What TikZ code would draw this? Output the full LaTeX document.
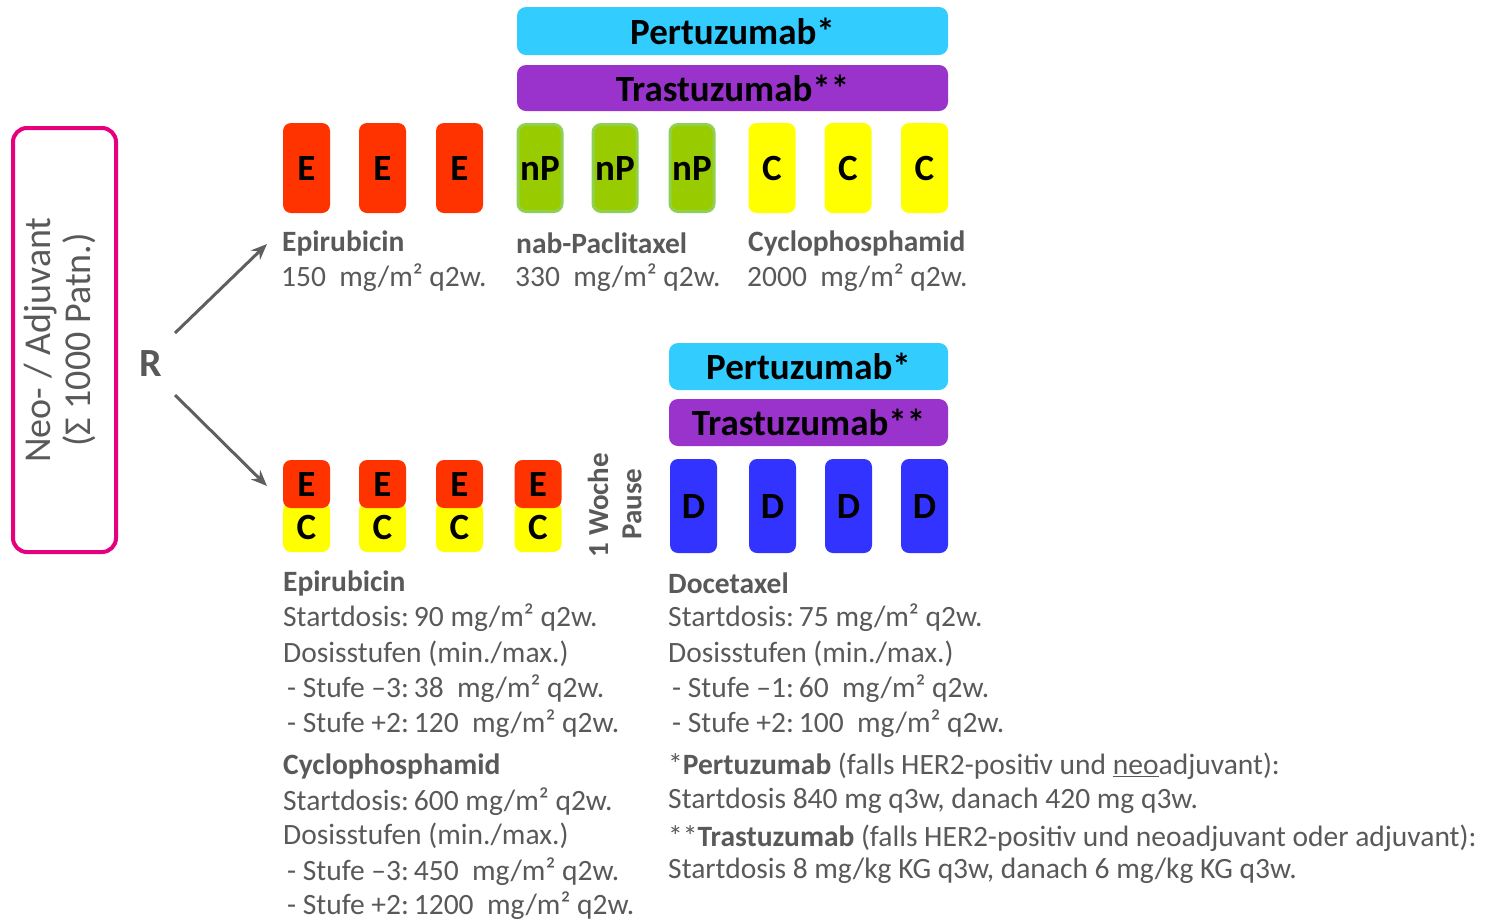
\documentclass[tikz,border=0pt]{standalone}
\usepackage{fontspec}
\setmainfont{Carlito}
\usetikzlibrary{arrows.meta}
\definecolor{txt}{HTML}{595959}
\definecolor{pink}{HTML}{E6007E}
\definecolor{ered}{HTML}{FF3300}
\definecolor{npgreen}{HTML}{99CC00}
\definecolor{npedge}{HTML}{8FD14F}
\definecolor{cyel}{HTML}{FFFF00}
\definecolor{dblue}{HTML}{3333FF}
\definecolor{pcyan}{HTML}{33CCFF}
\definecolor{tpurp}{HTML}{9933CC}
\definecolor{arr}{HTML}{5F5F5F}
\tikzset{
  cell/.style={rounded corners=8pt, inner sep=0pt, minimum width=47pt, font=\fontsize{37}{40}\selectfont\bfseries, text=black},
  ebox/.style={cell, fill=ered},
  npbox/.style={cell, fill=npgreen, draw=npedge, line width=3pt, minimum width=44pt},
  cbox/.style={cell, fill=cyel},
  dbox/.style={cell, fill=dblue, minimum height=94pt},
  bar/.style={rounded corners=9pt, inner sep=0pt, font=\fontsize{37}{40}\selectfont\bfseries, text=black},
  body/.style={anchor=west, inner sep=0pt, text=txt, font=\fontsize{29.5}{33}\selectfont},
  arrowline/.style={draw=arr, line width=3pt, -{Stealth[length=16pt,width=13pt]}},
  vlabel/.style={rotate=90, text=txt, font=\fontsize{29}{32}\selectfont\bfseries, inner sep=0pt}
}
\begin{document}
\begin{tikzpicture}[x=1pt,y=-1pt]
\useasboundingbox (0,0) rectangle (1495,922);
% left box
\node[draw=pink, line width=4pt, rounded corners=14pt, minimum width=103pt, minimum height=424pt, inner sep=0pt] (group) at (64.5,340) {};
\node[rotate=90, align=center, text=txt, font=\fontsize{38}{40}\selectfont, inner sep=0pt] (grouptxt) at (60,340) {Neo- / Adjuvant\\(Σ 1000 Patn.)};
\node[text=txt, font=\fontsize{40}{42}\selectfont\bfseries, inner sep=0pt] (R) at (151,364) {R};
\coordinate (a1s) at (175,333);
\coordinate (a1e) at (267,244);
\coordinate (a2s) at (175,395);
\coordinate (a2e) at (267,486);
\draw[arrowline] (a1s) -- (a1e);
\draw[arrowline] (a2s) -- (a2e);

% top arm
\node[bar, fill=pcyan, minimum width=431pt, minimum height=48pt] (p1) at (732.5,31) {Pertuzumab*};
\node[bar, fill=tpurp, minimum width=431pt, minimum height=46pt] (t1) at (732.5,88) {Trastuzumab**};
\node[ebox, minimum height=90pt] (e1) at (306.5,168) {E};
\node[ebox, minimum height=90pt] (e2) at (382.5,168) {E};
\node[ebox, minimum height=90pt] (e3) at (459.5,168) {E};
\node[npbox, minimum height=87pt] (n1) at (540,168) {nP};
\node[npbox, minimum height=87pt] (n2) at (615,168) {nP};
\node[npbox, minimum height=87pt] (n3) at (692,168) {nP};
\node[cbox, minimum height=90pt] (c1) at (772,168) {C};
\node[cbox, minimum height=90pt] (c2) at (848,168) {C};
\node[cbox, minimum height=90pt] (c3) at (924.5,168) {C};
\node[body] (l1a) at (282,243) {\textbf{Epirubicin}};
\node[body] (l1b) at (281,278) {150\ \ mg/m² q2w.};
\node[body] (l2a) at (516,243) {\textbf{nab-Paclitaxel}};
\node[body] (l2b) at (515,278) {330\ \ mg/m² q2w.};
\node[body] (l3a) at (748,243) {\textbf{Cyclophosphamid}};
\node[body] (l3b) at (747,278) {2000\ \ mg/m² q2w.};

% bottom arm
\node[bar, fill=pcyan, minimum width=279pt, minimum height=47pt] (p2) at (808.5,366.5) {Pertuzumab*};
\node[bar, fill=tpurp, minimum width=279pt, minimum height=47pt] (t2) at (808.5,422.5) {Trastuzumab**};
\foreach \x/\n in {306.5/1, 382.5/2, 459.5/3, 538/4}{
  \node[cbox, minimum height=50pt] (ec\n) at (\x,527) {C};
  \node[ebox, minimum height=48pt] (ee\n) at (\x,484) {E};
}
\node[vlabel] (woche) at (598,505) {1 Woche};
\node[vlabel] (pause) at (632,504) {Pause};
\node[dbox] (d1) at (693.5,506) {D};
\node[dbox] (d2) at (772.5,506) {D};
\node[dbox] (d3) at (848.5,506) {D};
\node[dbox] (d4) at (924.5,506) {D};

% bottom text left
\node[body] (b1) at (283,583) {\textbf{Epirubicin}};
\node[body] (b2) at (283,618) {Startdosis:\,90 mg/m² q2w.};
\node[body] (b3) at (283,654) {Dosisstufen (min./max.)};
\node[body] (b4) at (287,689) {- Stufe –3:\,38\ \ mg/m² q2w.};
\node[body] (b5) at (287,724) {- Stufe +2:\,120\ \ mg/m² q2w.};
\node[body] (b6) at (283,766) {\textbf{Cyclophosphamid}};
\node[body] (b7) at (283,802) {Startdosis:\,600 mg/m² q2w.};
\node[body] (b8) at (283,836) {Dosisstufen (min./max.)};
\node[body] (b9) at (287,872) {- Stufe –3:\,450\ \ mg/m² q2w.};
\node[body] (b10) at (287,906) {- Stufe +2:\,1200\ \ mg/m² q2w.};

% bottom text right
\node[body] (r1) at (668,583) {\textbf{Docetaxel}};
\node[body] (r2) at (668,618) {Startdosis:\,75 mg/m² q2w.};
\node[body] (r3) at (668,654) {Dosisstufen (min./max.)};
\node[body] (r4) at (672,689) {- Stufe –1:\,60\ \ mg/m² q2w.};
\node[body] (r5) at (672,724) {- Stufe +2:\,100\ \ mg/m² q2w.};
\node[body] (r6) at (668,766) {*\textbf{Pertuzumab} (falls HER2-positiv und \underline{neo}adjuvant):};
\node[body] (r7) at (668,801) {Startdosis 840 mg q3w, danach 420 mg q3w.};
\node[body] (r8) at (668,838) {**\textbf{Trastuzumab} (falls HER2-positiv und neoadjuvant oder adjuvant):};
\node[body] (r9) at (668,871) {Startdosis 8 mg/kg KG q3w, danach 6 mg/kg KG q3w.};
\end{tikzpicture}
\end{document}
